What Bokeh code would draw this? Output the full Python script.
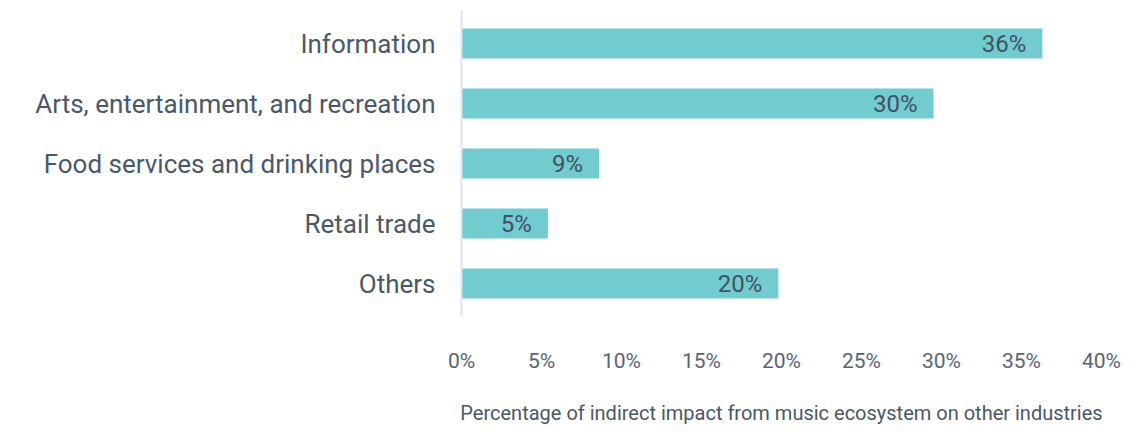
from bokeh.plotting import figure
from bokeh.models import ColumnDataSource, FactorRange, PrintfTickFormatter, FixedTicker
from bokeh.core.properties import value
from bokeh.embed import file_html
from bokeh.resources import INLINE

categories = ["Information", "Arts, entertainment, and recreation",
              "Food services and drinking places", "Retail trade", "Others"]
shares = [36.3, 29.5, 8.6, 5.4, 19.8]
share_labels = ["36%", "30%", "9%", "5%", "20%"]
x_ticks = [0, 5, 10, 15, 20, 25, 30, 35, 40]
x_title = "Percentage of indirect impact from music ecosystem on other industries"

FONT = "Roboto"
TEXT = "#4a5868"

src = ColumnDataSource(dict(cat=categories, val=shares, lab=share_labels))

p = figure(frame_width=640, frame_height=306, output_backend="svg", toolbar_location=None,
           y_range=FactorRange(factors=categories[::-1], range_padding=0.02),
           x_range=(0, 40))
p.min_border_left = 461
p.min_border_right = 20
p.min_border_top = 10
p.min_border_bottom = 95
p.outline_line_color = None
p.background_fill_color = "white"
p.border_fill_color = "white"
p.grid.visible = False

p.hbar(y="cat", right="val", left=0, height=0.5, source=src,
       fill_color="#72cccf", line_color=None)

p.text(x="val", y="cat", text="lab", source=src, x_offset=-16,
       text_align="right", text_baseline="middle",
       text_font=value(FONT), text_font_size="24px", text_color="#415064")

ya = p.yaxis[0]
ya.axis_line_color = "#dfe4ea"
ya.axis_line_width = 2
ya.major_tick_line_color = None
ya.minor_tick_line_color = None
ya.major_label_standoff = 20
ya.major_label_text_font = FONT
ya.major_label_text_font_size = "26px"
ya.major_label_text_color = TEXT

xa = p.xaxis[0]
xa.axis_line_color = None
xa.major_tick_line_color = None
xa.minor_tick_line_color = None
xa.ticker = FixedTicker(ticks=x_ticks)
xa.formatter = PrintfTickFormatter(format="%d%%")
xa.major_label_standoff = 26
xa.major_label_text_font = FONT
xa.major_label_text_font_size = "21px"
xa.major_label_text_color = "#566576"
xa.axis_label = x_title
xa.axis_label_standoff = 25
xa.axis_label_text_font = FONT
xa.axis_label_text_font_style = "normal"
xa.axis_label_text_font_size = "20px"
xa.axis_label_text_color = TEXT

open("out.html", "w").write(file_html(p, INLINE))
